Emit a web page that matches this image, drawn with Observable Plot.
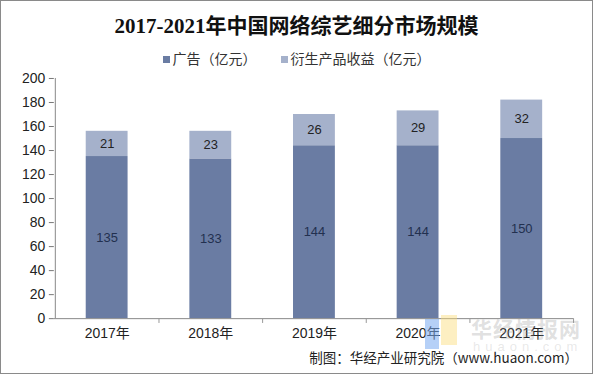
<!DOCTYPE html>
<html><head><meta charset="utf-8">
<script src="https://cdn.jsdelivr.net/npm/d3@7"></script>
<script src="https://cdn.jsdelivr.net/npm/@observablehq/plot@0.6"></script>
<style>
body{margin:0;background:#fff;}
#wrap{position:relative;width:591px;height:372px;border:1px solid #8a8a8a;overflow:hidden;background:#fff;font-family:"Liberation Sans","Noto Sans CJK SC",sans-serif;}
#title{position:absolute;left:0;top:8px;width:591px;text-align:center;font-family:"Liberation Serif","Noto Sans CJK SC",serif;font-weight:bold;font-size:21px;color:#111;}
#legend{position:absolute;left:0;top:47px;width:591px;text-align:center;font-family:"Noto Sans CJK SC",sans-serif;font-size:14px;color:#333;}
#legend span.sw{display:inline-block;width:7px;height:7px;margin-right:3px;vertical-align:1px;}
#legend span.item{margin:0 12px;}
#chart{position:absolute;left:0;top:69px;}
#caption{position:absolute;right:14px;top:346px;font-family:"Noto Sans CJK SC",sans-serif;font-size:13.5px;color:#222;}
#wm1{position:absolute;left:470px;top:312px;font-family:"Noto Sans CJK SC",sans-serif;font-weight:bold;font-size:21px;color:rgba(150,150,150,0.3);letter-spacing:1px;}
#wm2{position:absolute;left:472px;top:338px;font-family:"Liberation Sans",sans-serif;font-size:13px;color:rgba(150,150,150,0.22);letter-spacing:5px;}
#logo1{position:absolute;left:424px;top:318px;width:14px;height:30px;background:rgba(120,170,240,0.55);}
#logo2{position:absolute;left:440px;top:314px;width:16px;height:30px;background:rgba(250,220,120,0.45);}
</style></head>
<body>
<div id="wrap">
  <div id="title">2017-2021年中国网络综艺细分市场规模</div>
  <div id="legend"></div>
  <div id="chart"></div>
  <div id="logo1"></div><div id="logo2"></div>
  <div id="wm1">华经情报网</div>
  <div id="wm2">huaon.com</div>
  <div id="caption">制图：华经产业研究院（www.huaon.com）</div>
</div>
<script>
const years = ["2017年","2018年","2019年","2020年","2021年"];
const advertising = [135,133,144,144,150];
const derivative = [21,23,26,29,32];
const seriesNames = ["广告（亿元）","衍生产品收益（亿元）"];
const seriesColors = ["#6a7ca3","#a5b1cb"];
const yTicks = [0,20,40,60,80,100,120,140,160,180,200];

const rows = [];
years.forEach((y,i)=>{
  rows.push({year:y, series:seriesNames[0], value:advertising[i]});
  rows.push({year:y, series:seriesNames[1], value:derivative[i]});
});

const legend = document.getElementById("legend");
legend.innerHTML = seriesNames.map((n,i)=>`<span class="item"><span class="sw" style="background:${seriesColors[i]}"></span>${n}</span>`).join("");

const stackOpts = {x:"year", y:"value", z:"series", order: seriesNames};

const plot = Plot.plot({
  width: 593,
  height: 276,
  marginLeft: 53,
  marginRight: 19,
  marginTop: 8,
  marginBottom: 27,
  style: {fontFamily: "Liberation Sans, Noto Sans CJK SC, sans-serif", fontSize: "13px", color: "#222", background: "transparent"},
  x: {domain: years, paddingInner: 0.6, paddingOuter: 0.3, align: 0.5, label: null},
  y: {domain: [0,200], label: null},
  color: {domain: seriesNames, range: seriesColors},
  marks: [
    Plot.barY(rows, Plot.stackY({...stackOpts, fill:"series"})),
    Plot.text(rows, Plot.stackY({...stackOpts, text:"value", fill: d=> d.series===seriesNames[0] ? "#22304f" : "#222", fontSize: 13})),
    Plot.axisY({ticks: yTicks, tickSize: 5, tickPadding: 4, fontSize: 14, stroke:"#777"}),
    Plot.ruleX([years[0]], {x: d=>d, dx: -52, y1: 0, y2: 200, stroke:"#888"}),
    Plot.ruleY([0], {stroke:"#888"}),
    Plot.ruleX(years, {x: d=>d, dx: 52, y1: 0, y2: -4, stroke:"#999"}),
    Plot.axisX({tickSize: 0, tickPadding: 9, fontSize: 14})
  ]
});
document.getElementById("chart").appendChild(plot);
</script>
</body></html>
